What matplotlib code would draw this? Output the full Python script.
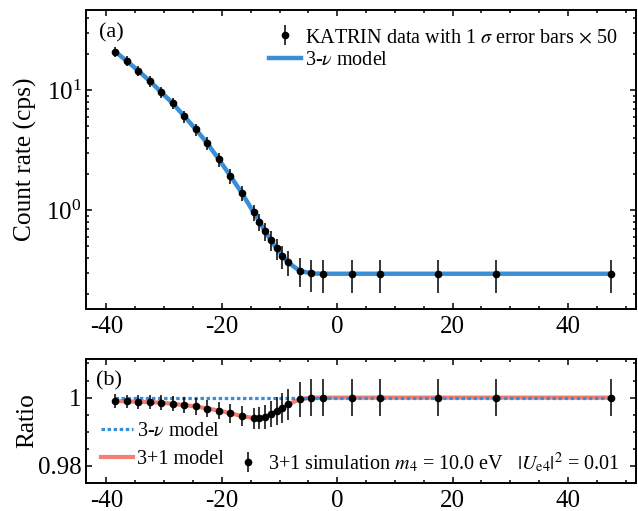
import numpy as np
import matplotlib
matplotlib.use('Agg')
import matplotlib.pyplot as plt
from matplotlib.ticker import MultipleLocator, FormatStrFormatter, NullFormatter, LogLocator
from matplotlib.lines import Line2D

plt.rcParams['font.family'] = ['Liberation Serif', 'DejaVu Serif']
plt.rcParams['mathtext.fontset'] = 'stix'
plt.rcParams['axes.unicode_minus'] = False

# retarding energy qU - E0 (eV)
energy = [-38.5, -36.5, -34.5, -32.5, -30.5, -28.5, -26.5, -24.5, -22.5, -20.5,
          -18.5, -16.5, -14.5, -13.5, -12.5, -11.5, -10.5, -9.5, -8.5, -6.5,
          -4.5, -2.5, 2.5, 7.5, 17.5, 27.5, 47.5]
# count rate (cps) and 1 sigma error x 50
rate = [20.9, 17.5, 14.5, 11.9, 9.6, 7.74, 6.04, 4.70, 3.59, 2.64,
        1.92, 1.38, 0.96, 0.80, 0.668, 0.562, 0.48, 0.414, 0.366, 0.312,
        0.297, 0.295, 0.295, 0.295, 0.295, 0.295, 0.295]
rate_err = [2.1, 1.75, 1.5, 1.25, 1.05, 0.85, 0.69, 0.56, 0.45, 0.34,
            0.27, 0.2, 0.15, 0.13, 0.117, 0.104, 0.096, 0.09, 0.086, 0.085,
            0.088, 0.09, 0.09, 0.09, 0.09, 0.09, 0.09]
# ratio 3+1 / 3-nu
ratio = [0.9990, 0.9989, 0.9988, 0.9987, 0.9985, 0.9982, 0.9978, 0.9974, 0.9968, 0.9962,
         0.9954, 0.9946, 0.9940, 0.9940, 0.9943, 0.9952, 0.9961, 0.9969, 0.9980, 0.9995,
         1.0, 1.0, 1.0, 1.0, 1.0, 1.0, 1.0]
ratio_err = [0.0020, 0.0020, 0.0021, 0.0021, 0.0022, 0.0022, 0.0023, 0.0024, 0.0025, 0.0026,
             0.0028, 0.0029, 0.0031, 0.0033, 0.0035, 0.0037, 0.0040, 0.0043, 0.0046, 0.0051,
             0.0054, 0.0055, 0.0055, 0.0055, 0.0055, 0.0055, 0.0055]
ones = [1.0] * len(energy)

blue = '#3a8ed6'
red = '#f08073'

fig = plt.figure(figsize=(6.38, 5.11), dpi=100)
ax1 = fig.add_axes([0.1343, 0.3953, 0.8626, 0.5851])
ax2 = fig.add_axes([0.1343, 0.0554, 0.8626, 0.2421])

def style(ax):
    for s in ax.spines.values():
        s.set_linewidth(1.4)
    ax.tick_params(which='both', direction='in', top=True, right=True,
                   labelsize=18, width=1.1)
    ax.tick_params(which='major', length=4.5)
    ax.tick_params(which='minor', length=2.5)
    ax.tick_params(axis='x', pad=5)
    ax.tick_params(axis='y', pad=3)
    ax.set_xlim(-43.6, 51.8)
    ax.xaxis.set_major_locator(MultipleLocator(20))
    ax.xaxis.set_minor_locator(MultipleLocator(5))

# top panel
ax1.plot(energy, rate, color=blue, lw=3.2, label=r'3-$\nu$ model', zorder=2)
ax1.errorbar(energy, rate, yerr=rate_err, fmt='o', color='black', ms=4.5,
             elinewidth=1.1, capsize=0, zorder=3,
             label=r'KATRIN data with 1 $\sigma$ error bars $\times$ 50')
ax1.set_yscale('log')
ax1.set_ylim(0.15, 46.4)
style(ax1)
ax1.yaxis.set_minor_locator(LogLocator(subs=np.arange(2, 10)))
ax1.yaxis.set_minor_formatter(NullFormatter())
ax1.set_ylabel('Count rate (cps)', fontsize=18.3)
ax1.yaxis.set_label_coords(-0.089, 0.5)
ax1.text(0.025, 0.955, '(a)', transform=ax1.transAxes, fontsize=16, va='top')
h, l = ax1.get_legend_handles_labels()
ax1.legend(h[::-1], l[::-1], loc='upper right', frameon=False, fontsize=14.5,
           handlelength=1.6, handletextpad=0.2, borderaxespad=0.5,
           labelspacing=0.2)

# bottom panel
ax2.plot(energy, ratio, color=red, lw=3, zorder=2)
ax2.plot(energy, ones, color=blue, lw=2.3, ls=(0, (1.1, 0.8)), zorder=2.5)
ax2.errorbar(energy, ratio, yerr=ratio_err, fmt='o', color='black', ms=4.5,
             elinewidth=1.1, capsize=0, zorder=3)
ax2.set_ylim(0.9751, 1.0113)
style(ax2)
ax2.yaxis.set_major_locator(MultipleLocator(0.02))
ax2.yaxis.set_minor_locator(MultipleLocator(0.005))
ax2.yaxis.set_major_formatter(FormatStrFormatter('%g'))
ax2.set_ylabel('Ratio', fontsize=18.3)
ax2.yaxis.set_label_coords(-0.087, 0.5)
ax2.text(0.018, 0.9, '(b)', transform=ax2.transAxes, fontsize=16, va='top')

h_nu = Line2D([], [], color=blue, lw=2.3, ls=(0, (1.1, 0.8)))
h_41 = Line2D([], [], color=red, lw=3)
h_blank = Line2D([], [], alpha=0)
h_sim = ax2.errorbar([], [], yerr=[], fmt='o', color='black', ms=4.5,
                     elinewidth=1.1, capsize=0)
ax2.legend([h_nu, h_41, h_blank, h_sim],
           [r'3-$\nu$ model', '3+1 model', ' ',
            r'3+1 simulation $m_4$ = 10.0 eV   $|U_{\rm e4}|^2$ = 0.01'],
           ncol=2, loc='lower left', bbox_to_anchor=(0.013, 0.0),
           frameon=False, fontsize=14.5,
           handlelength=1.6, handletextpad=0.2, columnspacing=0.4,
           borderaxespad=0.0, labelspacing=0.45)

fig.savefig('out.png', dpi=100)
